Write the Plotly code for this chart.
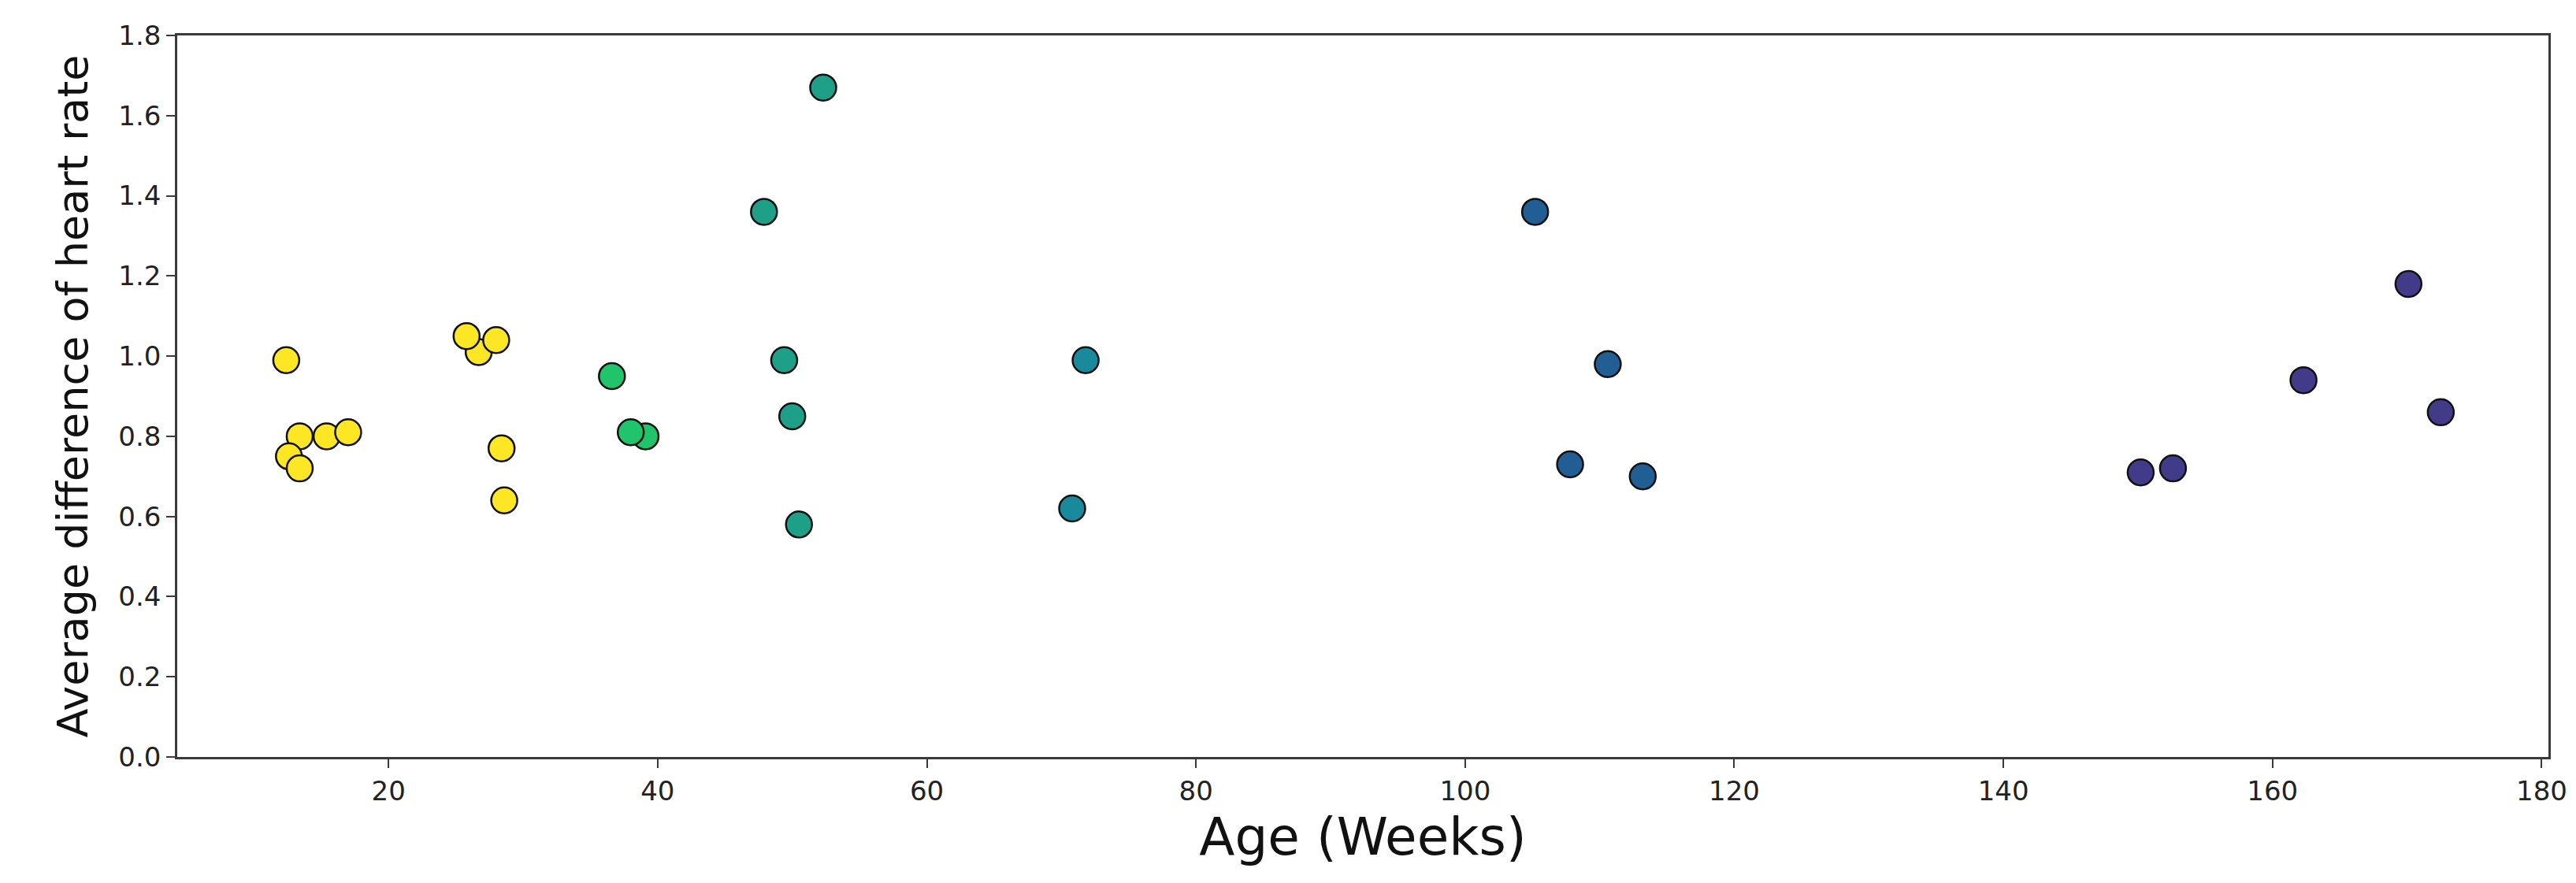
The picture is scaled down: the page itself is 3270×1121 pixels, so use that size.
import plotly.graph_objects as go

# Data
age_weeks = [26.7, 12.4, 13.4, 15.4, 17.0, 12.6, 13.4, 25.8, 28.0, 28.4, 28.6,
             36.6, 39.1, 38.0,
             47.9, 49.4, 50.0, 50.5, 52.3,
             70.8, 71.8,
             105.2, 107.8, 110.6, 113.2,
             150.2, 152.6, 162.3, 170.1, 172.5]
hr_diff = [1.01, 0.99, 0.80, 0.80, 0.81, 0.75, 0.72, 1.05, 1.04, 0.77, 0.64,
           0.95, 0.80, 0.81,
           1.36, 0.99, 0.85, 0.58, 1.67,
           0.62, 0.99,
           1.36, 0.73, 0.98, 0.70,
           0.71, 0.72, 0.94, 1.18, 0.86]
group = [0]*11 + [1]*3 + [2]*5 + [3]*2 + [4]*4 + [5]*5
group_colors = ["#fde725", "#20c56b", "#1e9f88", "#198a9c", "#205e94", "#423b8a"]

x_ticks = [20, 40, 60, 80, 100, 120, 140, 160, 180]
y_ticks = [0.0, 0.2, 0.4, 0.6, 0.8, 1.0, 1.2, 1.4, 1.6, 1.8]

fig = go.Figure()
fig.add_trace(go.Scatter(
    x=age_weeks, y=hr_diff, mode="markers",
    marker=dict(size=33, color=[group_colors[g] for g in group],
                line=dict(color="#111111", width=2.5)),
    showlegend=False,
))

axis_common = dict(
    showline=True, mirror=True, linecolor="#3a3a3a", linewidth=2.5,
    showgrid=False, zeroline=False,
    ticks="outside", ticklen=11, tickwidth=2, tickcolor="#3a3a3a",
    tickfont=dict(family="DejaVu Sans", size=34, color="#222222"),
)

fig.update_xaxes(
    range=[4.3, 180.5], tickvals=x_ticks, ticktext=[str(v) for v in x_ticks],
    title=dict(text="Age (Weeks)", font=dict(family="DejaVu Sans", size=66, color="#111111"), standoff=12),
    **axis_common,
)
fig.update_yaxes(
    range=[0, 1.8], tickvals=y_ticks, ticktext=[f"{v:.1f}" for v in y_ticks],
    title=dict(text="Average difference of heart rate", font=dict(family="DejaVu Sans", size=54, color="#111111"), standoff=22),
    **axis_common,
)

fig.update_layout(
    width=3270, height=1121,
    margin=dict(l=217, r=43, t=37, b=168, autoexpand=False),
    paper_bgcolor="white", plot_bgcolor="white",
)

fig.write_html("out.html")
